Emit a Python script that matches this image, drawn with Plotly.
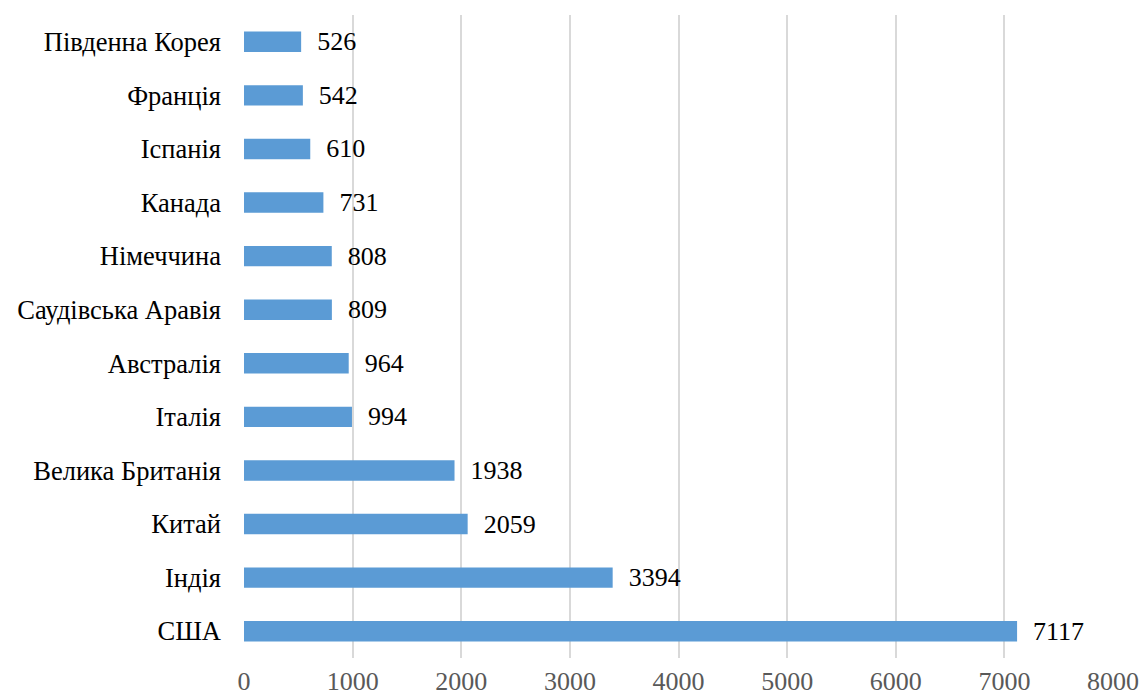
import plotly.graph_objects as go

countries = ["США", "Індія", "Китай", "Велика Британія", "Італія", "Австралія",
             "Саудівська Аравія", "Німеччина", "Канада", "Іспанія", "Франція",
             "Південна Корея"]
values = [7117, 3394, 2059, 1938, 994, 964, 809, 808, 731, 610, 542, 526]
x_ticks = [0, 1000, 2000, 3000, 4000, 5000, 6000, 7000, 8000]

font_family = "Liberation Serif, Times New Roman, serif"

fig = go.Figure(go.Bar(
    y=countries,
    x=values,
    orientation="h",
    marker=dict(color="#5b9bd5", line=dict(width=0)),
    text=values,
    texttemplate="  %{text}",
    textposition="outside",
    constraintext="none",
    cliponaxis=False,
    textfont=dict(family=font_family, size=26, color="#000000"),
))

fig.update_layout(
    width=1142, height=698,
    margin=dict(l=244, r=29, t=15, b=40),
    paper_bgcolor="white", plot_bgcolor="white",
    bargap=0.62,
    showlegend=False,
    font=dict(family=font_family, size=26, color="#000000"),
)
fig.update_xaxes(
    range=[0, 8000], tickvals=x_ticks, ticktext=[str(v) for v in x_ticks],
    showgrid=True, gridcolor="#d9d9d9", gridwidth=2,
    zeroline=False, showline=False, ticks="",
    tickfont=dict(family=font_family, size=26, color="#595959"),
    ticklabelstandoff=5, automargin=False,
)
fig.update_yaxes(
    categoryorder="array", categoryarray=countries,
    showgrid=False, zeroline=False, showline=False, ticks="",
    tickfont=dict(family=font_family, size=26.5, color="#000000"),
    ticklabelstandoff=22, automargin=False,
)

fig.write_html("out.html")
